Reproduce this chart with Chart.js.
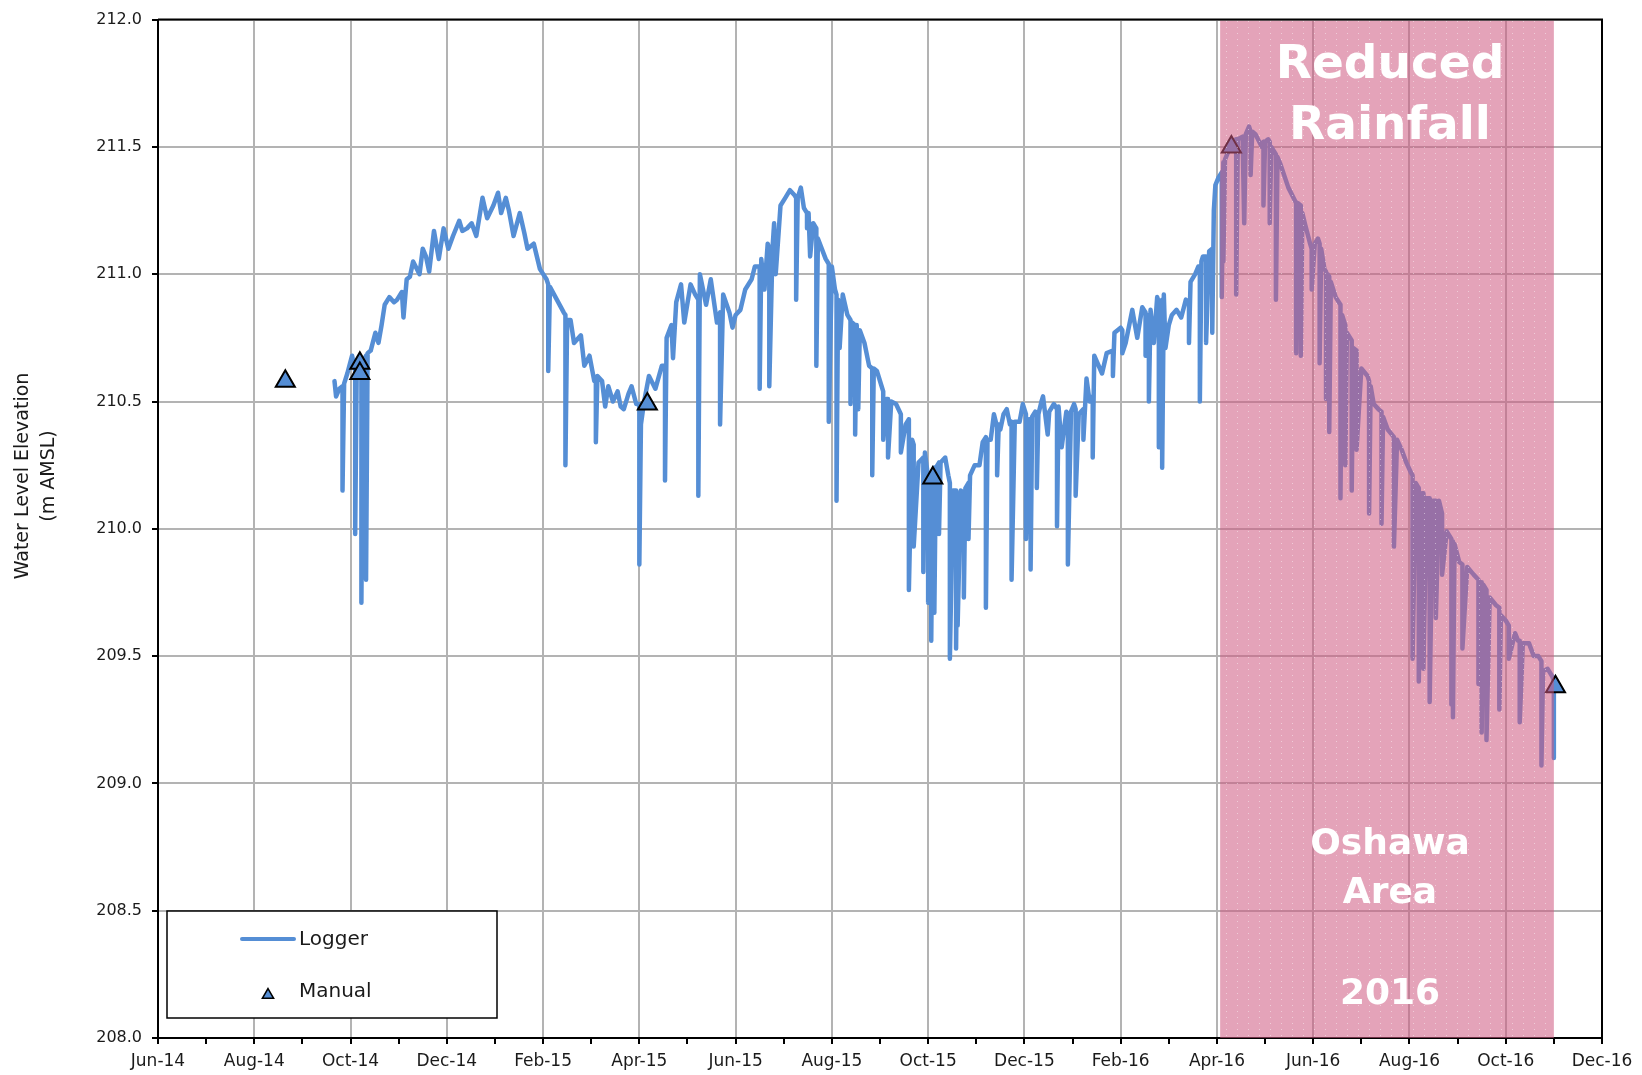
<!DOCTYPE html>
<html>
<head>
<meta charset="utf-8">
<script src="https://cdn.jsdelivr.net/npm/chart.js@4.4.0/dist/chart.umd.min.js"></script>
<style>
html, body { margin: 0; padding: 0; background: #fff; }
#wrap { width: 1642px; height: 1075px; position: relative; }
</style>
</head>
<body>
<div id="wrap"><canvas id="chart"></canvas></div>
<script>
// x axis: one tick per month from Jun-14 to Dec-16, label every second month
const tickLabels = ['Jun-14', 'Aug-14', 'Oct-14', 'Dec-14', 'Feb-15', 'Apr-15', 'Jun-15', 'Aug-15',
  'Oct-15', 'Dec-15', 'Feb-16', 'Apr-16', 'Jun-16', 'Aug-16', 'Oct-16', 'Dec-16'];
const axisStart = '2014-06-01';

// logger record (m AMSL); repeated dates are the short drops
const loggerDates = [
  '2014-09-21', '2014-09-22', '2014-09-24', '2014-09-26', '2014-09-26', '2014-09-27', '2014-09-29', '2014-10-02',
  '2014-10-04', '2014-10-04', '2014-10-05', '2014-10-08', '2014-10-08', '2014-10-09', '2014-10-11', '2014-10-11',
  '2014-10-12', '2014-10-14', '2014-10-17', '2014-10-19', '2014-10-21', '2014-10-23', '2014-10-26', '2014-10-29',
  '2014-10-31', '2014-11-03', '2014-11-04', '2014-11-06', '2014-11-08', '2014-11-10', '2014-11-14', '2014-11-16',
  '2014-11-18', '2014-11-20', '2014-11-23', '2014-11-26', '2014-11-29', '2014-12-02', '2014-12-05', '2014-12-09',
  '2014-12-11', '2014-12-14', '2014-12-17', '2014-12-20', '2014-12-24', '2014-12-27', '2014-12-31', '2015-01-03',
  '2015-01-05', '2015-01-08', '2015-01-10', '2015-01-13', '2015-01-17', '2015-01-20', '2015-01-22', '2015-01-26',
  '2015-01-30', '2015-02-03', '2015-02-04', '2015-02-04', '2015-02-05', '2015-02-09', '2015-02-13', '2015-02-14',
  '2015-02-14', '2015-02-15', '2015-02-17', '2015-02-19', '2015-02-23', '2015-02-25', '2015-02-28', '2015-03-03',
  '2015-03-04', '2015-03-04', '2015-03-05', '2015-03-08', '2015-03-10', '2015-03-12', '2015-03-15', '2015-03-18',
  '2015-03-20', '2015-03-22', '2015-03-25', '2015-03-27', '2015-03-30', '2015-04-01', '2015-04-01', '2015-04-02',
  '2015-04-04', '2015-04-07', '2015-04-11', '2015-04-15', '2015-04-17', '2015-04-17', '2015-04-18', '2015-04-21',
  '2015-04-22', '2015-04-24', '2015-04-27', '2015-04-29', '2015-05-03', '2015-05-06', '2015-05-08', '2015-05-08',
  '2015-05-09', '2015-05-13', '2015-05-16', '2015-05-20', '2015-05-22', '2015-05-22', '2015-05-24', '2015-05-28',
  '2015-05-30', '2015-06-01', '2015-06-04', '2015-06-07', '2015-06-11', '2015-06-13', '2015-06-16', '2015-06-16',
  '2015-06-17', '2015-06-19', '2015-06-21', '2015-06-22', '2015-06-22', '2015-06-24', '2015-06-25', '2015-06-26',
  '2015-06-29', '2015-07-02', '2015-07-05', '2015-07-08', '2015-07-09', '2015-07-09', '2015-07-10', '2015-07-12',
  '2015-07-14', '2015-07-16', '2015-07-16', '2015-07-17', '2015-07-18', '2015-07-20', '2015-07-22', '2015-07-22',
  '2015-07-23', '2015-07-28', '2015-07-30', '2015-07-30', '2015-08-01', '2015-08-03', '2015-08-04', '2015-08-04',
  '2015-08-05', '2015-08-06', '2015-08-08', '2015-08-11', '2015-08-13', '2015-08-13', '2015-08-14', '2015-08-16',
  '2015-08-16', '2015-08-17', '2015-08-18', '2015-08-19', '2015-08-22', '2015-08-25', '2015-08-27', '2015-08-27',
  '2015-08-28', '2015-08-30', '2015-09-02', '2015-09-03', '2015-09-03', '2015-09-05', '2015-09-06', '2015-09-06',
  '2015-09-08', '2015-09-11', '2015-09-14', '2015-09-14', '2015-09-17', '2015-09-19', '2015-09-19', '2015-09-21',
  '2015-09-22', '2015-09-22', '2015-09-25', '2015-09-28', '2015-09-28', '2015-09-29', '2015-10-01', '2015-10-01',
  '2015-10-02', '2015-10-03', '2015-10-03', '2015-10-04', '2015-10-05', '2015-10-05', '2015-10-06', '2015-10-08',
  '2015-10-08', '2015-10-09', '2015-10-12', '2015-10-14', '2015-10-15', '2015-10-15', '2015-10-17', '2015-10-19',
  '2015-10-19', '2015-10-20', '2015-10-20', '2015-10-22', '2015-10-24', '2015-10-24', '2015-10-25', '2015-10-27',
  '2015-10-27', '2015-10-28', '2015-10-31', '2015-11-03', '2015-11-05', '2015-11-07', '2015-11-07', '2015-11-08',
  '2015-11-10', '2015-11-12', '2015-11-14', '2015-11-14', '2015-11-15', '2015-11-16', '2015-11-18', '2015-11-20',
  '2015-11-22', '2015-11-23', '2015-11-23', '2015-11-25', '2015-11-28', '2015-11-30', '2015-12-02', '2015-12-02',
  '2015-12-04', '2015-12-05', '2015-12-05', '2015-12-06', '2015-12-08', '2015-12-09', '2015-12-09', '2015-12-10',
  '2015-12-12', '2015-12-13', '2015-12-16', '2015-12-17', '2015-12-20', '2015-12-22', '2015-12-22', '2015-12-23',
  '2015-12-25', '2015-12-28', '2015-12-29', '2015-12-29', '2015-12-31', '2016-01-02', '2016-01-03', '2016-01-03',
  '2016-01-05', '2016-01-08', '2016-01-08', '2016-01-10', '2016-01-12', '2016-01-14', '2016-01-14', '2016-01-15',
  '2016-01-20', '2016-01-23', '2016-01-27', '2016-01-27', '2016-01-28', '2016-02-01', '2016-02-02', '2016-02-02',
  '2016-02-04', '2016-02-08', '2016-02-11', '2016-02-14', '2016-02-16', '2016-02-16', '2016-02-18', '2016-02-18',
  '2016-02-19', '2016-02-21', '2016-02-23', '2016-02-24', '2016-02-24', '2016-02-26', '2016-02-26', '2016-02-27',
  '2016-02-28', '2016-03-01', '2016-03-03', '2016-03-06', '2016-03-09', '2016-03-12', '2016-03-14', '2016-03-14',
  '2016-03-15', '2016-03-18', '2016-03-20', '2016-03-21', '2016-03-21', '2016-03-22', '2016-03-23', '2016-03-25',
  '2016-03-25', '2016-03-27', '2016-03-29', '2016-03-29', '2016-03-30', '2016-03-31', '2016-04-02', '2016-04-04',
  '2016-04-04', '2016-04-05', '2016-04-05', '2016-04-06', '2016-04-08', '2016-04-10', '2016-04-13', '2016-04-13',
  '2016-04-14', '2016-04-17', '2016-04-18', '2016-04-19', '2016-04-21', '2016-04-22', '2016-04-22', '2016-04-23',
  '2016-04-25', '2016-04-29', '2016-04-30', '2016-04-30', '2016-05-01', '2016-05-03', '2016-05-04', '2016-05-04',
  '2016-05-05', '2016-05-06', '2016-05-08', '2016-05-08', '2016-05-09', '2016-05-11', '2016-05-16', '2016-05-21',
  '2016-05-21', '2016-05-22', '2016-05-24', '2016-05-24', '2016-05-25', '2016-05-27', '2016-05-30', '2016-05-31',
  '2016-05-31', '2016-06-02', '2016-06-04', '2016-06-05', '2016-06-05', '2016-06-06', '2016-06-08', '2016-06-09',
  '2016-06-09', '2016-06-10', '2016-06-11', '2016-06-11', '2016-06-12', '2016-06-15', '2016-06-18', '2016-06-18',
  '2016-06-19', '2016-06-21', '2016-06-21', '2016-06-22', '2016-06-25', '2016-06-25', '2016-06-26', '2016-06-28',
  '2016-06-28', '2016-07-01', '2016-07-05', '2016-07-06', '2016-07-06', '2016-07-07', '2016-07-09', '2016-07-12',
  '2016-07-14', '2016-07-14', '2016-07-15', '2016-07-18', '2016-07-22', '2016-07-22', '2016-07-24', '2016-07-27',
  '2016-07-30', '2016-08-02', '2016-08-03', '2016-08-03', '2016-08-05', '2016-08-07', '2016-08-07', '2016-08-09',
  '2016-08-10', '2016-08-10', '2016-08-12', '2016-08-14', '2016-08-14', '2016-08-16', '2016-08-18', '2016-08-18',
  '2016-08-20', '2016-08-22', '2016-08-22', '2016-08-25', '2016-08-28', '2016-08-28', '2016-08-29', '2016-08-29',
  '2016-08-30', '2016-09-02', '2016-09-04', '2016-09-04', '2016-09-07', '2016-09-11', '2016-09-14', '2016-09-14',
  '2016-09-16', '2016-09-16', '2016-09-17', '2016-09-19', '2016-09-19', '2016-09-21', '2016-09-25', '2016-09-27',
  '2016-09-27', '2016-09-28', '2016-10-01', '2016-10-03', '2016-10-03', '2016-10-07', '2016-10-09', '2016-10-10',
  '2016-10-10', '2016-10-12', '2016-10-16', '2016-10-19', '2016-10-22', '2016-10-24', '2016-10-24', '2016-10-25',
  '2016-10-28', '2016-10-31', '2016-11-01', '2016-11-01'
];
const loggerLevels = [
  210.58, 210.52, 210.55, 210.56, 210.15, 210.57, 210.61, 210.68,
  210.62, 209.98, 210.64, 210.66, 209.71, 210.66, 210.68, 209.80,
  210.69, 210.70, 210.77, 210.73, 210.80, 210.88, 210.91, 210.89,
  210.90, 210.93, 210.83, 210.98, 210.99, 211.05, 211.00, 211.10,
  211.07, 211.01, 211.17, 211.06, 211.18, 211.10, 211.15, 211.21,
  211.17, 211.18, 211.20, 211.15, 211.30, 211.22, 211.27, 211.32,
  211.24, 211.30, 211.25, 211.15, 211.24, 211.16, 211.10, 211.12,
  211.02, 210.98, 210.96, 210.62, 210.95, 210.90, 210.85, 210.84,
  210.25, 210.82, 210.82, 210.73, 210.76, 210.64, 210.68, 210.58,
  210.58, 210.34, 210.60, 210.58, 210.48, 210.56, 210.50, 210.54,
  210.48, 210.47, 210.53, 210.56, 210.49, 210.49, 209.86, 210.41,
  210.50, 210.60, 210.55, 210.64, 210.64, 210.19, 210.75, 210.80,
  210.67, 210.89, 210.96, 210.81, 210.96, 210.92, 210.90, 210.13,
  211.00, 210.88, 210.98, 210.81, 210.85, 210.41, 210.92, 210.85,
  210.79, 210.84, 210.86, 210.94, 210.98, 211.03, 211.03, 210.55,
  211.06, 210.94, 211.12, 211.10, 210.56, 211.10, 211.20, 211.00,
  211.27, 211.30, 211.33, 211.31, 211.30, 210.90, 211.30, 211.34,
  211.26, 211.24, 211.18, 211.24, 211.07, 211.20, 211.18, 210.64,
  211.14, 211.06, 211.04, 210.42, 211.03, 210.94, 210.92, 210.11,
  210.90, 210.71, 210.92, 210.84, 210.82, 210.49, 210.81, 210.80,
  210.37, 210.80, 210.47, 210.78, 210.73, 210.64, 210.63, 210.21,
  210.63, 210.62, 210.56, 210.54, 210.35, 210.51, 210.51, 210.28,
  210.50, 210.49, 210.45, 210.30, 210.41, 210.43, 209.76, 210.35,
  210.33, 209.93, 210.26, 210.28, 209.83, 210.30, 210.20, 209.71,
  210.21, 210.22, 209.56, 210.23, 210.24, 209.67, 210.24, 210.26,
  209.98, 210.26, 210.28, 210.21, 210.18, 209.49, 210.15, 210.15,
  209.53, 210.14, 209.62, 210.15, 210.14, 209.73, 210.16, 210.18,
  209.96, 210.21, 210.25, 210.25, 210.34, 210.36, 209.69, 210.35,
  210.35, 210.45, 210.40, 210.21, 210.41, 210.39, 210.45, 210.47,
  210.41, 210.42, 209.80, 210.42, 210.42, 210.49, 210.45, 209.96,
  210.43, 210.43, 209.84, 210.44, 210.46, 210.44, 210.16, 210.45,
  210.50, 210.52, 210.37, 210.46, 210.49, 210.47, 210.01, 210.48,
  210.32, 210.46, 210.45, 209.86, 210.46, 210.49, 210.47, 210.13,
  210.45, 210.47, 210.35, 210.59, 210.50, 210.52, 210.28, 210.68,
  210.61, 210.69, 210.70, 210.60, 210.77, 210.79, 210.78, 210.69,
  210.73, 210.86, 210.75, 210.87, 210.85, 210.68, 210.84, 210.50,
  210.86, 210.73, 210.91, 210.89, 210.32, 210.90, 210.24, 210.92,
  210.71, 210.80, 210.84, 210.86, 210.83, 210.90, 210.89, 210.73,
  210.97, 211.00, 211.03, 211.03, 210.50, 211.05, 211.07, 211.07,
  210.73, 211.09, 211.10, 210.77, 211.25, 211.35, 211.38, 211.40,
  210.91, 211.44, 211.05, 211.45, 211.48, 211.52, 211.53, 210.92,
  211.53, 211.54, 211.20, 211.55, 211.58, 211.56, 211.39, 211.56,
  211.55, 211.50, 211.52, 211.27, 211.52, 211.53, 211.52, 211.20,
  211.50, 211.49, 211.47, 210.90, 211.46, 211.43, 211.34, 211.28,
  210.69, 211.28, 211.27, 210.68, 211.24, 211.19, 211.12, 211.10,
  210.94, 211.12, 211.14, 211.12, 210.65, 211.10, 211.02, 211.01,
  210.51, 211.00, 210.99, 210.38, 210.97, 210.91, 210.88, 210.12,
  210.84, 210.80, 210.25, 210.77, 210.74, 210.15, 210.71, 210.70,
  210.31, 210.63, 210.60, 210.58, 210.06, 210.56, 210.49, 210.47,
  210.46, 210.02, 210.44, 210.39, 210.36, 209.93, 210.35, 210.31,
  210.26, 210.22, 210.21, 209.49, 210.18, 210.16, 209.40, 210.14,
  210.14, 209.45, 210.12, 210.12, 209.32, 210.11, 210.11, 209.65,
  210.11, 210.06, 209.82, 209.99, 209.96, 209.31, 209.95, 209.26,
  209.94, 209.87, 209.86, 209.53, 209.85, 209.82, 209.80, 209.39,
  209.79, 209.20, 209.78, 209.76, 209.17, 209.73, 209.70, 209.69,
  209.29, 209.66, 209.64, 209.62, 209.49, 209.59, 209.56, 209.56,
  209.24, 209.55, 209.55, 209.50, 209.50, 209.48, 209.07, 209.44,
  209.45, 209.42, 209.40, 209.10
];

// manual (hand) measurements
const manualDates = ['2014-08-21', '2014-10-07', '2014-10-07', '2015-04-06', '2015-10-04', '2016-04-10', '2016-11-02'];
const manualLevels = [210.58, 210.65, 210.61, 210.49, 210.20, 211.50, 209.38];

// shaded period and its caption
const shadeFrom = '2016-04-03';
const shadeTo = '2016-11-01';
const captionLines = ['Reduced', 'Rainfall', 'Oshawa', 'Area', '2016'];
const captionLevels = [211.77, 211.53, 208.722, 208.53, 208.135];

const yTitleLines = ['Water Level Elevation', '(m AMSL)'];

const BLUE = '#558ED5';
const FONT = 'DejaVu Sans';

// months since Jun-14 (equal width per month, like the original axis)
function monthPos(s) {
  const [y, m, d] = s.split('-').map(Number);
  const [y0, m0] = axisStart.split('-').map(Number);
  const dim = new Date(y, m, 0).getDate();
  return (y - y0) * 12 + (m - m0) + (d - 1) / dim;
}

const loggerPoints = loggerDates.map((d, i) => ({ x: monthPos(d), y: loggerLevels[i] }));
const manualPoints = manualDates.map((d, i) => ({ x: monthPos(d), y: manualLevels[i] }));
const monthCount = (tickLabels.length - 1) * 2;

function shadeFill(ctx) {
  const tile = document.createElement('canvas');
  tile.width = 11; tile.height = 6;
  const t = tile.getContext('2d');
  t.fillStyle = 'rgba(206, 88, 128, 0.55)';
  t.fillRect(0, 0, 11, 6);
  t.fillStyle = 'rgba(255, 255, 255, 0.45)';
  t.fillRect(5, 3, 1, 1);
  return ctx.createPattern(tile, 'repeat');
}

const shadePlugin = {
  id: 'shade',
  afterDatasetsDraw(chart) {
    const { ctx, chartArea: a, scales: { x, y } } = chart;
    const x0 = x.getPixelForValue(monthPos(shadeFrom));
    const x1 = x.getPixelForValue(monthPos(shadeTo));
    ctx.save();
    ctx.fillStyle = shadeFill(ctx);
    ctx.fillRect(x0, a.top + 1, x1 - x0, a.bottom - a.top - 1);
    ctx.fillStyle = '#fff';
    ctx.textAlign = 'center';
    ctx.textBaseline = 'alphabetic';
    captionLines.forEach((txt, i) => {
      ctx.font = 'bold ' + (i < 2 ? 47 : 36) + 'px "' + FONT + '"';
      ctx.fillText(txt, (x0 + x1) / 2 + 3, y.getPixelForValue(captionLevels[i]));
    });
    ctx.restore();
  }
};

const framePlugin = {
  id: 'frame',
  afterDraw(chart) {
    const { ctx, chartArea: a } = chart;
    ctx.save();
    // top and right border
    ctx.strokeStyle = '#000';
    ctx.lineWidth = 2;
    ctx.beginPath();
    ctx.moveTo(a.left, a.top);
    ctx.lineTo(a.right, a.top);
    ctx.lineTo(a.right, a.bottom);
    ctx.stroke();

    // y title, two lines
    ctx.fillStyle = '#1a1a1a';
    ctx.font = '19px "' + FONT + '"';
    ctx.textAlign = 'center';
    ctx.textBaseline = 'middle';
    yTitleLines.forEach((txt, i) => {
      ctx.save();
      ctx.translate(23 + i * 26, 476);
      ctx.rotate(-Math.PI / 2);
      ctx.fillText(txt, 0, 0);
      ctx.restore();
    });

    // legend box
    const lx = a.left + 9, ly = a.bottom - 127;
    ctx.fillStyle = '#fff';
    ctx.fillRect(lx, ly, 330, 107);
    ctx.lineWidth = 1.5;
    ctx.strokeRect(lx, ly, 330, 107);
    const logger = chart.data.datasets[1];
    const manual = chart.data.datasets[0];
    ctx.strokeStyle = logger.borderColor;
    ctx.lineWidth = 4;
    ctx.lineCap = 'round';
    ctx.beginPath();
    ctx.moveTo(lx + 75, ly + 28);
    ctx.lineTo(lx + 127, ly + 28);
    ctx.stroke();
    ctx.fillStyle = manual.backgroundColor;
    ctx.strokeStyle = manual.borderColor;
    ctx.lineWidth = 1.5;
    Chart.helpers.drawPoint(ctx, { pointStyle: 'triangle', radius: 6.5, borderWidth: 1.5 }, lx + 101, ly + 84);
    ctx.fillStyle = '#1a1a1a';
    ctx.font = '20px "' + FONT + '"';
    ctx.textAlign = 'left';
    ctx.textBaseline = 'middle';
    ctx.fillText(logger.label, lx + 132, ly + 29);
    ctx.fillText(manual.label, lx + 132, ly + 81);
    ctx.restore();
  }
};

new Chart(document.getElementById('chart'), {
  type: 'scatter',
  data: {
    datasets: [{
      label: 'Manual',
      data: manualPoints,
      showLine: false,
      pointStyle: 'triangle',
      pointRadius: 11,
      backgroundColor: BLUE,
      borderColor: '#000',
      borderWidth: 2,
      order: 0
    }, {
      label: 'Logger',
      data: loggerPoints,
      showLine: true,
      borderColor: BLUE,
      borderWidth: 4.5,
      borderJoinStyle: 'round',
      borderCapStyle: 'round',
      pointRadius: 0,
      tension: 0,
      order: 1
    }]
  },
  options: {
    responsive: true,
    maintainAspectRatio: false,
    animation: false,
    events: [],
    layout: { padding: { top: 17, right: 40, left: 0, bottom: 0 } },
    scales: {
      x: {
        type: 'linear',
        min: 0,
        max: monthCount,
        afterBuildTicks: (axis) => {
          axis.ticks = Array.from({ length: monthCount + 1 }, (_, i) => ({ value: i }));
        },
        afterFit: (scale) => { scale.height = 37; },
        ticks: {
          autoSkip: false,
          maxRotation: 0,
          padding: 7,
          color: '#1a1a1a',
          font: { family: FONT, size: 17 },
          callback: (v) => (v % 2 === 0 ? tickLabels[v / 2] : '')
        },
        grid: {
          color: (c) => (c.tick && c.tick.value % 2 === 0 ? '#b3b3b3' : 'rgba(0,0,0,0)'),
          lineWidth: 2,
          tickColor: '#000',
          tickLength: 6,
          tickWidth: 2
        },
        border: { color: '#000', width: 2 }
      },
      y: {
        min: 208,
        max: 212,
        afterFit: (scale) => { scale.width = 158; },
        ticks: {
          stepSize: 0.5,
          padding: 10,
          color: '#1a1a1a',
          font: { family: FONT, size: 16 },
          callback: (v) => v.toFixed(1)
        },
        grid: {
          color: '#b3b3b3',
          lineWidth: 2,
          tickColor: '#000',
          tickLength: 6,
          tickWidth: 2
        },
        border: { color: '#000', width: 2 }
      }
    },
    plugins: {
      legend: { display: false },
      tooltip: { enabled: false }
    }
  },
  plugins: [shadePlugin, framePlugin]
});
</script>
</body>
</html>
